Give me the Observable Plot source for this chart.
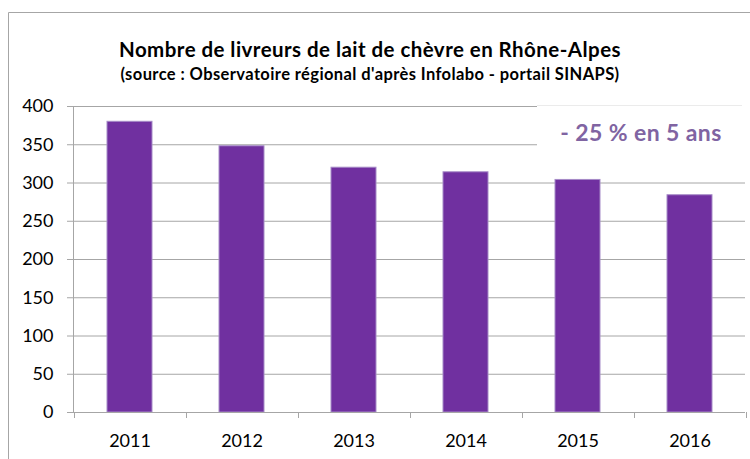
<!DOCTYPE html>
<html>
<head>
<meta charset="utf-8">
<script src="https://cdn.jsdelivr.net/npm/d3@7"></script>
<script src="https://cdn.jsdelivr.net/npm/@observablehq/plot@0.6"></script>
<style>
  html, body { margin: 0; padding: 0; background: #fff; }
  #wrap { position: relative; width: 750px; height: 459px; overflow: hidden; }
  #wrap svg { position: absolute; left: 0; top: 0; }
</style>
</head>
<body>
<div id="wrap"></div>
<script>
const years = ["2011", "2012", "2013", "2014", "2015", "2016"];
const livreurs = [380, 348, 320, 314, 304, 284];
const yTicks = [0, 50, 100, 150, 200, 250, 300, 350, 400];
const title = "Nombre de livreurs de lait de chèvre en Rhône-Alpes";
const subtitle = "(source : Observatoire régional d'après Infolabo - portail SINAPS)";
const annotation = "- 25 % en 5 ans";

const data = years.map((y, i) => ({year: y, value: livreurs[i]}));
const FONT = "Lato, 'Open Sans', sans-serif";
const GRID = "#a6a6a6";

function axisLines(index, scales, values, dims) {
  const x = scales.x;
  const bw = x.bandwidth ? x.bandwidth() : 0;
  const step = x(years[1]) - x(years[0]);
  const g = d3.create("svg:g").attr("stroke", GRID).attr("stroke-width", 1);
  const left = dims.marginLeft, top = dims.marginTop, bottom = dims.height - dims.marginBottom;
  g.append("line").attr("x1", left + 0.5).attr("x2", left + 0.5).attr("y1", top).attr("y2", bottom);
  const bounds = years.map(d => x(d) + bw / 2 - step / 2);
  bounds.push(x(years[years.length - 1]) + bw / 2 + step / 2);
  for (const b of bounds) {
    g.append("line").attr("x1", Math.round(b) + 0.5).attr("x2", Math.round(b) + 0.5)
      .attr("y1", bottom).attr("y2", bottom + 6);
  }
  return g.node();
}

const chart = Plot.plot({
  width: 750,
  height: 459,
  marginTop: 106,
  marginBottom: 47,
  marginLeft: 73,
  marginRight: 5,
  style: {fontFamily: FONT, background: "transparent", overflow: "visible"},
  x: {domain: years, paddingInner: 0.6, paddingOuter: 0.3, label: null},
  y: {domain: [0, 400], ticks: yTicks, label: null},
  marks: [
    Plot.gridY(yTicks, {stroke: GRID, strokeOpacity: 1}),
    Plot.barY(data, {x: "year", y: "value", fill: "#7030a0", stroke: "#a68bc7", strokeWidth: 1}),
    Plot.axisY(yTicks, {tickSize: 6, tickPadding: 14, fontSize: 18, stroke: GRID, fill: "#000", label: null}),
    Plot.axisX({tickSize: 0, tickPadding: 22, fontSize: 18, fill: "#000", label: null}),
    Plot.ruleY([0], {stroke: GRID}),
    axisLines
  ]
});
const wrap = document.getElementById("wrap");
wrap.appendChild(chart);

// overlay: chart border, title, annotation
const ov = d3.select(wrap).append("svg").attr("width", 750).attr("height", 459)
  .style("font-family", FONT);
ov.append("path").attr("d", "M8.5,459V12.5H750").attr("fill", "none").attr("stroke", "#a6a6a6");
ov.append("text").attr("x", 370).attr("y", 57).attr("text-anchor", "middle")
  .attr("font-size", 20.5).attr("letter-spacing", 0.45).attr("font-weight", "bold").attr("fill", "#000").text(title);
ov.append("text").attr("x", 370).attr("y", 80).attr("text-anchor", "middle")
  .attr("font-size", 16.5).attr("letter-spacing", 0.4).attr("font-weight", "bold").attr("fill", "#000").text(subtitle);
ov.append("rect").attr("x", 537).attr("y", 106).attr("width", 208).attr("height", 64).attr("fill", "#fff");
ov.append("line").attr("x1", 537).attr("x2", 742).attr("y1", 105.5).attr("y2", 105.5).attr("stroke", "#ebebeb");
ov.append("text").attr("x", 641).attr("y", 141).attr("text-anchor", "middle")
  .attr("font-size", 23).attr("letter-spacing", 0.4).attr("font-weight", "bold").attr("fill", "#8064a2").text(annotation);
</script>
</body>
</html>
